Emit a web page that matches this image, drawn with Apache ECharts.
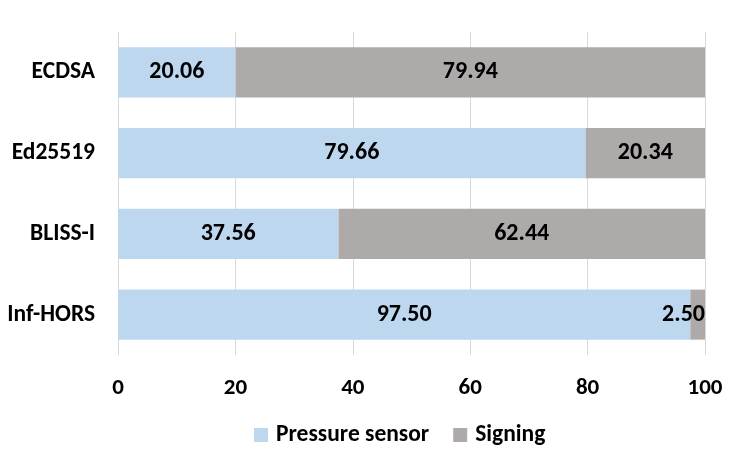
<!DOCTYPE html>
<html><head><meta charset="utf-8">
<script src="https://cdn.jsdelivr.net/npm/echarts@6/dist/echarts.min.js"></script>
<style>html,body{margin:0;padding:0;background:#fff}#c{width:731px;height:458px}</style>
</head><body><div id="c"></div>
<script>
var categories = ['ECDSA', 'Ed25519', 'BLISS-I', 'Inf-HORS'];
var pressureSensor = [20.06, 79.66, 37.56, 97.50];
var signing = [79.94, 20.34, 62.44, 2.50];
var xTicks = [0, 20, 40, 60, 80, 100];

var FONT = "'Carlito','Liberation Sans Narrow','Lato',sans-serif";
var chart = echarts.init(document.getElementById('c'), null, {renderer: 'canvas'});
var lbl = {show: true, position: 'inside', color: '#000', fontFamily: FONT, fontWeight: 'bold', fontSize: 24,
  formatter: function (p) { return p.value.toFixed(2); }};
chart.setOption({
  animation: false,
  grid: {left: 118, right: 26, top: 32, bottom: 103, containLabel: false},
  legend: {
    top: 418, left: 249, itemWidth: 14, itemHeight: 14, itemGap: 24, icon: 'rect',
    textStyle: {fontFamily: FONT, fontWeight: 'bold', fontSize: 23.5, color: '#000', padding: [0, 0, 0, 3]},
    data: ['Pressure sensor', 'Signing']
  },
  xAxis: {
    type: 'value', min: xTicks[0], max: xTicks[xTicks.length - 1], interval: 20,
    axisLine: {show: false}, axisTick: {show: false},
    splitLine: {show: true, lineStyle: {color: '#d9d9d9', width: 1}},
    axisLabel: {margin: 22, color: '#000', fontFamily: FONT, fontWeight: 'bold', fontSize: 23}
  },
  yAxis: {
    type: 'category', data: categories, inverse: true,
    axisLine: {show: true, lineStyle: {color: '#d9d9d9'}}, axisTick: {show: false},
    axisLabel: {margin: 23, color: '#000', fontFamily: FONT, fontWeight: 'bold', fontSize: 23.5}
  },
  series: [
    {name: 'Pressure sensor', type: 'bar', stack: 't', barCategoryGap: '38%',
     itemStyle: {color: '#BDD7EE'}, label: lbl, data: pressureSensor},
    {name: 'Signing', type: 'bar', stack: 't',
     itemStyle: {color: '#AEAAAA'}, label: lbl,
     data: signing.map(function (v, i) {
       return v < 5 ? {value: v, label: {position: 'insideRight', distance: 0}} : v;
     })}
  ]
});
</script></body></html>
